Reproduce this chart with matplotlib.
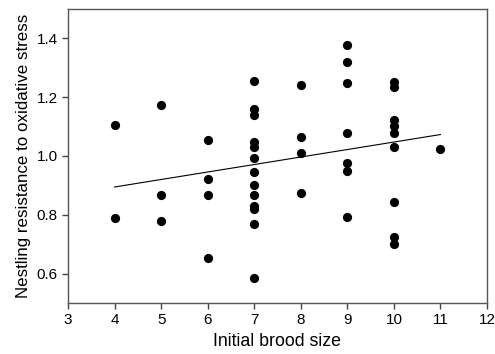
import numpy as np
import matplotlib.pyplot as plt

plt.rcParams['font.family'] = ['Liberation Sans', 'DejaVu Sans']

brood_size = [4, 4,
              5, 5, 5,
              6, 6, 6, 6,
              7, 7, 7, 7, 7, 7, 7, 7, 7, 7, 7, 7, 7,
              8, 8, 8, 8,
              9, 9, 9, 9, 9, 9, 9,
              10, 10, 10, 10, 10, 10, 10, 10, 10,
              11]
resistance = [1.105, 0.790,
              1.175, 0.869, 0.778,
              1.054, 0.923, 0.866, 0.653,
              1.255, 1.160, 1.138, 1.049, 1.030, 0.994, 0.945, 0.903, 0.866, 0.829, 0.819, 0.768, 0.586,
              1.242, 1.065, 1.009, 0.875,
              1.378, 1.318, 1.247, 1.078, 0.976, 0.949, 0.792,
              1.250, 1.234, 1.122, 1.102, 1.078, 1.030, 0.845, 0.724, 0.700,
              1.025]

x = np.array(brood_size)
y = np.array(resistance)
slope, intercept = np.polyfit(x, y, 1)
xf = np.array([x.min(), x.max()])

fig = plt.figure(figsize=(4.95, 3.54), dpi=100)
ax = fig.add_axes([0.1374, 0.1441, 0.8464, 0.8305])

ax.scatter(x, y, s=44, color='black', zorder=3, linewidths=0)
ax.plot(xf, intercept + slope * xf, color='black', linewidth=0.8)

ax.set_xlim(3, 12)
ax.set_ylim(0.5, 1.5)
ax.set_xticks(range(3, 13))
ax.set_yticks([0.6, 0.8, 1.0, 1.2, 1.4])
ax.set_yticklabels(['0.6', '0.8', '1.0', '1.2', '1.4'])
ax.tick_params(direction='out', length=4, width=1, labelsize=11, color='#444444')
for s in ax.spines.values():
    s.set_color('#555555')
    s.set_linewidth(1)

ax.set_xlabel('Initial brood size', fontsize=12.8)
ax.set_ylabel('Nestling resistance to oxidative stress', fontsize=12.2)

fig.savefig('out.png', dpi=100)
